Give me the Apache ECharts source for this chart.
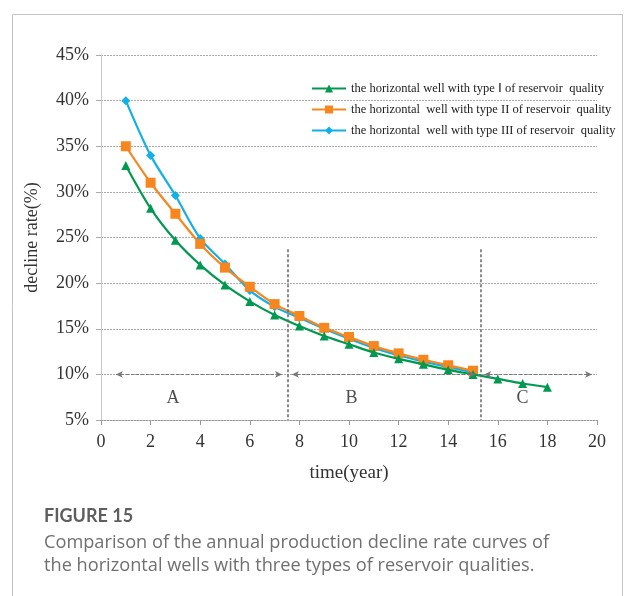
<!DOCTYPE html>
<html>
<head>
<meta charset="utf-8">
<script src="https://cdn.jsdelivr.net/npm/echarts@6/dist/echarts.min.js"></script>
<style>
  html, body { margin: 0; padding: 0; background: #fff; }
  #chart { width: 625px; height: 596px; }
</style>
</head>
<body>
<div id="chart"></div>
<script>
// Years on the horizontal axis
const years = [1, 2, 3, 4, 5, 6, 7, 8, 9, 10, 11, 12, 13, 14, 15, 16, 17, 18];
const yearsShort = [1, 2, 3, 4, 5, 6, 7, 8, 9, 10, 11, 12, 13, 14, 15];

// Annual decline rate (%) for each reservoir quality type
const typeI = [32.9, 28.2, 24.7, 22.0, 19.8, 18.0, 16.5, 15.3, 14.2, 13.3, 12.4, 11.7, 11.1, 10.5, 10.0, 9.5, 9.0, 8.6];
const typeII = [35.0, 31.0, 27.6, 24.3, 21.7, 19.6, 17.7, 16.4, 15.1, 14.1, 13.1, 12.3, 11.6, 11.0, 10.4];
const typeIII = [40.0, 34.0, 29.6, 24.9, 22.1, 19.2, 17.4, 16.2, 15.0, 13.9, 12.9, 12.1, 11.4, 10.8, 10.2];

const seriesNames = [
  'the horizontal well with type \u2160 of reservoir  quality',
  'the horizontal  well with type II of reservoir  quality',
  'the horizontal  well with type III of reservoir  quality'
];

// Stage boundaries and stage labels
const stageBounds = [7.55, 15.3];
const stageTop = 23.7;
const stageArrows = [[0.6, 7.3], [7.7, 15.1], [15.45, 19.8]];
const stageArrowLevel = 10;
const stageLabels = [['A', 2.9, 7.4], ['B', 10.1, 7.4], ['C', 17.0, 7.4]];

const yTicks = { min: 5, max: 45, interval: 5 };
const xTicks = { min: 0, max: 20, interval: 2 };

const serif = '"Liberation Serif", "Times New Roman", serif';
const green = '#00994f';
const orange = '#f7861f';
const blue = '#12b0e6';

const pair = (xs, ys) => xs.map((x, i) => [x, ys[i]]);

const chart = echarts.init(document.getElementById('chart'), null, { renderer: 'canvas' });

chart.setOption({
  animation: false,
  backgroundColor: '#fff',
  grid: { left: 101, right: 28, top: 55, bottom: 176 },
  graphic: [
    {
      type: 'rect',
      shape: { x: 12.5, y: 14.5, width: 610, height: 620 },
      style: { fill: 'none', stroke: '#c4c4c4', lineWidth: 1 },
      z: -10
    },
    {
      type: 'text', left: 44, top: 507,
      style: { text: 'FIGURE 15', font: 'bold 18px Lato, sans-serif', fill: '#5e5e5e' }
    },
    {
      type: 'text', left: 44, top: 531,
      style: {
        text: 'Comparison of the annual production decline rate curves of\nthe horizontal wells with three types of reservoir qualities.',
        font: '18.2px "Open Sans", sans-serif', fill: '#707070', lineHeight: 23
      }
    }
  ],
  legend: {
    orient: 'vertical',
    left: 311, top: 82, padding: 0,
    itemWidth: 34, itemHeight: 10, itemGap: 8,
    textStyle: { fontFamily: serif, fontSize: 12.5, color: '#222', padding: [0, 0, 0, 0] },
    data: seriesNames
  },
  xAxis: {
    type: 'value',
    min: xTicks.min, max: xTicks.max, interval: xTicks.interval,
    name: 'time(year)', nameLocation: 'middle', nameGap: 44,
    nameTextStyle: { fontFamily: serif, fontSize: 19, color: '#333' },
    axisLine: { show: true, lineStyle: { color: '#999', type: [2, 1], width: 1 } },
    axisTick: { show: true, length: 5, lineStyle: { color: '#999' } },
    axisLabel: { fontFamily: serif, fontSize: 18, color: '#333', margin: 13 },
    splitLine: { show: false }
  },
  yAxis: {
    type: 'value',
    min: yTicks.min, max: yTicks.max, interval: yTicks.interval,
    name: 'decline rate(%)', nameLocation: 'middle', nameGap: 60,
    nameTextStyle: { fontFamily: serif, fontSize: 18, color: '#333' },
    axisLine: { show: true, lineStyle: { color: '#c8c8c8', width: 1 } },
    axisTick: { show: true, length: 5, lineStyle: { color: '#aaa' } },
    axisLabel: { fontFamily: serif, fontSize: 18, color: '#333', margin: 12, formatter: '{value}%' },
    splitLine: { show: true, lineStyle: { color: '#aaa', type: [2, 1], width: 1 } }
  },
  series: [
    {
      name: seriesNames[0], type: 'line', smooth: 0.3, z: 4,
      data: pair(years, typeI),
      symbol: 'triangle', symbolSize: 9,
      lineStyle: { color: green, width: 2.2 }, itemStyle: { color: green }
    },
    {
      name: seriesNames[1], type: 'line', smooth: 0.3, z: 3,
      data: pair(yearsShort, typeII),
      symbol: 'rect', symbolSize: 10,
      lineStyle: { color: orange, width: 2.2 }, itemStyle: { color: orange }
    },
    {
      name: seriesNames[2], type: 'line', smooth: 0.3, z: 2,
      data: pair(yearsShort, typeIII),
      symbol: 'diamond', symbolSize: 9,
      lineStyle: { color: blue, width: 2.2 }, itemStyle: { color: blue }
    },
    {
      // Stage dividers, stage arrows and stage letters
      name: 'stages', type: 'scatter', z: 1,
      data: stageLabels.map(s => ({ value: [s[1], s[2]], label: { formatter: s[0] } })),
      symbolSize: 0,
      label: { show: true, position: 'inside', fontFamily: serif, fontSize: 18, color: '#222' },
      markLine: {
        silent: true,
        animation: false,
        data: [
          ...stageBounds.map(x => [
            { coord: [x, stageTop], symbol: 'none' },
            { coord: [x, yTicks.min], symbol: 'none' }
          ]),
          ...stageArrows.map(a => [
            { coord: [a[0], stageArrowLevel], symbol: 'arrow', symbolSize: [5, 7],
              lineStyle: { color: '#777', type: [3, 2], width: 1.2 } },
            { coord: [a[1], stageArrowLevel], symbol: 'arrow', symbolSize: [5, 7] }
          ])
        ],
        lineStyle: { color: '#666', type: [3, 2], width: 1.5 },
        label: { show: false }
      }
    }
  ]
});
</script>
</body>
</html>
